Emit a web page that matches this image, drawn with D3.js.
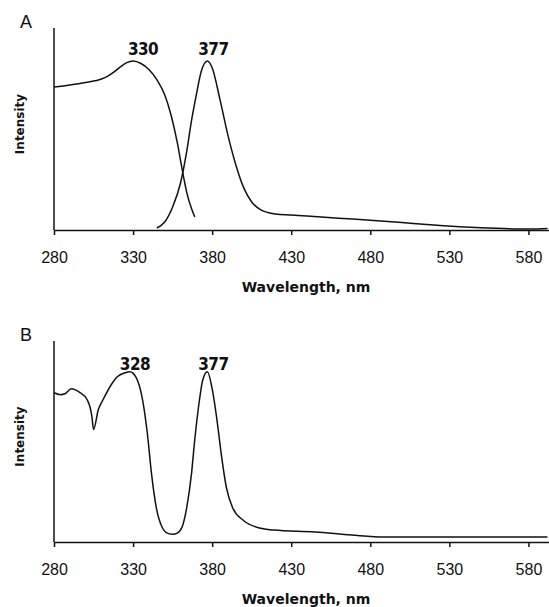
<!DOCTYPE html>
<html>
<head>
<meta charset="utf-8">
<script src="https://cdn.jsdelivr.net/npm/d3@7"></script>
<style>
  body { margin: 0; background: #fff; }
  svg { display: block; }
  .tick text { font-family: "Liberation Sans", Arial, sans-serif; font-size: 16px; fill: #111; }
  .axis path, .axis line { stroke: #111; stroke-width: 1.5; }
  .title { font-family: "DejaVu Sans", sans-serif; font-weight: bold; font-size: 14px; fill: #111; }
  .ylab { font-family: "DejaVu Sans", sans-serif; font-weight: bold; font-size: 12px; fill: #111; }
  .peak { font-family: "Liberation Sans Narrow", "DejaVu Sans Condensed", sans-serif; font-weight: bold; font-size: 17px; fill: #111; letter-spacing: -0.6px; }
  .panel { font-family: "Liberation Sans", Arial, sans-serif; font-size: 18px; fill: #111; }
</style>
</head>
<body>
<script>
// x ticks, shared by both panels
var xTicks = [280, 330, 380, 430, 480, 530, 580];

// Panel A: excitation spectrum (peak 330)
var exWaveA = [280, 290, 300, 310, 314, 318, 322, 326, 330, 335, 340, 345, 350, 354, 358, 361, 364, 367, 369];
var exIntA  = [84.6, 85.8, 87.3, 89.3, 91, 93.5, 96.5, 99, 100, 98.5, 95, 89, 80, 68, 51.5, 36, 22, 12.5, 7.7];

// Panel A: emission spectrum (peak 377)
var emWaveA = [345, 350, 355, 360, 364, 367, 370, 373, 377, 380, 385, 390, 395, 400, 405, 410, 420, 430, 440, 460, 480, 500, 520, 540, 560, 580, 592];
var emIntA  = [1.2, 4.7, 13.6, 27.8, 47, 65, 80, 93.5, 100, 96, 77, 56, 38.5, 24.9, 16.6, 12.4, 9.5, 8.9, 8.3, 7.0, 5.8, 4.4, 3.0, 1.8, 1.0, 0.6, 0.9];

// Panel B: excitation + emission trace (peaks 328, 377)
var waveB = [280, 284, 287, 291, 296, 301, 304, 305, 308, 311, 317, 320, 325, 328, 332, 336, 339, 341.6, 344.6, 348.6, 351, 355, 358, 361, 364, 367, 369, 372, 374, 377, 380, 383, 386, 389, 393, 400, 410, 419, 445, 468, 489, 520, 560, 592];
var intB  = [87.6, 86.5, 87, 90, 88, 83.5, 73.5, 66, 77.6, 83.5, 93.5, 97, 99.4, 100, 96.5, 83.5, 64, 40.6, 20.6, 8.2, 5.5, 4.5, 5.2, 8.8, 20.6, 40.6, 60, 83.5, 95, 100, 90, 72, 50, 32, 20, 12.5, 8.2, 7, 5.9, 4.1, 2.9, 2.9, 2.9, 2.9];

var peaksA = [{label: "330", wave: 330, dx: 10}, {label: "377", wave: 377, dx: 6}];
var peaksB = [{label: "328", wave: 328, dx: 5}, {label: "377", wave: 377, dx: 6}];

var svg = d3.select("body").append("svg")
    .attr("width", 549)
    .attr("height", 607);

var x = d3.scaleLinear().domain([280, 593]).range([54, 549]);

function drawPanel(letter, top, bottom, yMax, series, peaks, peakDy) {
  var y = d3.scaleLinear().domain([0, yMax]).range([bottom, top]);
  var line = d3.line()
      .x(function(d) { return x(d[0]); })
      .y(function(d) { return y(d[1]); })
      .curve(d3.curveMonotoneX);

  var g = svg.append("g");

  // y axis line (no ticks)
  g.append("line")
      .attr("x1", x(280)).attr("x2", x(280))
      .attr("y1", top).attr("y2", bottom)
      .attr("stroke", "#111").attr("stroke-width", 1.5);

  g.append("g")
      .attr("class", "axis")
      .attr("transform", "translate(0," + bottom + ")")
      .call(d3.axisBottom(x).tickValues(xTicks).tickSize(5).tickSizeOuter(0).tickPadding(17).tickFormat(d3.format("d")));

  series.forEach(function(s) {
    g.append("path")
        .datum(d3.zip(s[0], s[1]))
        .attr("fill", "none")
        .attr("stroke", "#111")
        .attr("stroke-width", 1.5)
        .attr("d", line);
  });

  g.selectAll(".peak")
      .data(peaks)
      .enter().append("text")
      .attr("class", "peak")
      .attr("text-anchor", "middle")
      .attr("x", function(d) { return x(d.wave) + d.dx; })
      .attr("y", y(100) + peakDy)
      .text(function(d) { return d.label; });

  g.append("text")
      .attr("class", "title")
      .attr("text-anchor", "middle")
      .attr("x", 306)
      .attr("y", bottom + 62)
      .text("Wavelength, nm");

  g.append("text")
      .attr("class", "ylab")
      .attr("text-anchor", "middle")
      .attr("transform", "translate(24," + ((top + bottom) / 2 - 5) + ") rotate(-90)")
      .text("Intensity");

  g.append("text")
      .attr("class", "panel")
      .attr("x", 20)
      .attr("y", top)
      .text(letter);
}

drawPanel("A", 28, 230, 119.5, [[exWaveA, exIntA], [emWaveA, emIntA]], peaksA, -6);
drawPanel("B", 341, 542, 118, [[waveB, intB]], peaksB, -2);
</script>
</body>
</html>
